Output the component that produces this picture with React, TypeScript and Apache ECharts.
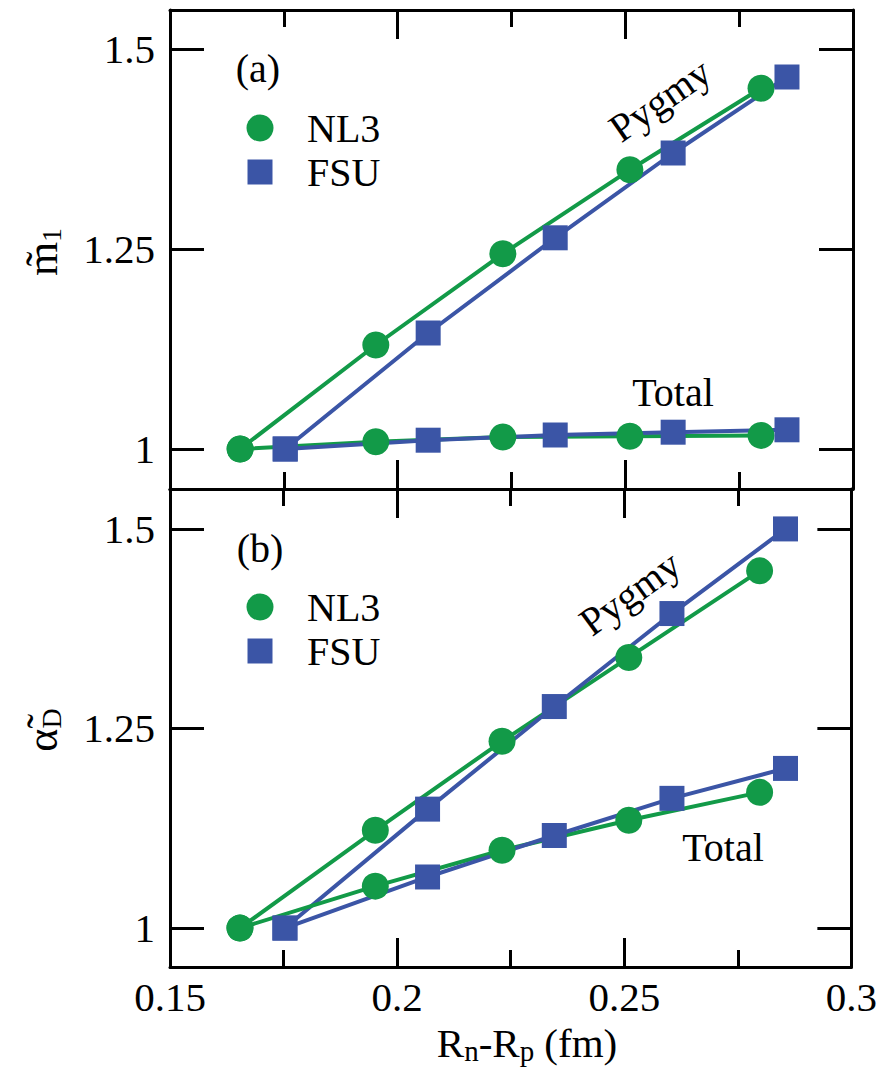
import React, { useEffect, useRef } from 'react';
import * as echarts from 'echarts';

// ---- data ----
const nl3X = [0.1654, 0.1952, 0.2231, 0.251, 0.2798];
const fsuX = [0.1753, 0.2067, 0.2346, 0.2605, 0.2855];

// panel (a): m1 ratio
const nl3PygmyM1 = [1.0, 1.13, 1.244, 1.349, 1.451];
const fsuPygmyM1 = [1.0, 1.145, 1.264, 1.37, 1.465];
const nl3TotalM1 = [1.0, 1.009, 1.015, 1.016, 1.017];
const fsuTotalM1 = [1.0, 1.011, 1.0175, 1.021, 1.024];

// panel (b): alpha_D ratio
const nl3PygmyAlpha = [1.0, 1.1225, 1.234, 1.339, 1.4475];
const fsuPygmyAlpha = [1.0, 1.149, 1.2775, 1.394, 1.5];
const nl3TotalAlpha = [1.0, 1.0525, 1.0975, 1.135, 1.17];
const fsuTotalAlpha = [1.0, 1.064, 1.116, 1.1625, 1.2];

const yTickValues = [1, 1.25, 1.5];
const xRange = [0.15, 0.3];
const xInterval = 0.05;

const GREEN = '#129a48';
const BLUE = '#3b55a6';
const FONT = 'Liberation Serif';

const pairs = (xs: number[], ys: number[]) => xs.map((x, i) => [x, ys[i]]);

export default function App() {
  const ref = useRef<HTMLDivElement>(null);
  useEffect(() => {
    if (!ref.current) return;
    const chart = echarts.init(ref.current, null, { renderer: 'svg' });

    const axisLine = { show: true, onZero: false, lineStyle: { color: '#000', width: 3 } };
    const xAxisBase = (gridIndex: number, position: string, showLabel: boolean) => ({
      type: 'value',
      gridIndex,
      position,
      min: xRange[0],
      max: xRange[1],
      interval: xInterval,
      axisLine,
      axisTick: { show: true, inside: true, length: 29, lineStyle: { color: '#000', width: 3 } },
      minorTick: { show: true, splitNumber: 2, length: 17, lineStyle: { color: '#000', width: 3 } },
      splitLine: { show: false },
      minorSplitLine: { show: false },
      axisLabel: {
        show: showLabel,
        fontFamily: FONT,
        fontSize: 41,
        color: '#000',
        margin: 9,
        formatter: (v: number) => String(Math.round(v * 1000) / 1000),
      },
    });
    const yAxisBase = (gridIndex: number, position: string, min: number, max: number, showLabel: boolean) => ({
      type: 'value',
      gridIndex,
      position,
      min,
      max,
      axisLine,
      axisTick: {
        show: true,
        inside: true,
        length: 34,
        customValues: yTickValues,
        lineStyle: { color: '#000', width: 3 },
      },
      splitLine: { show: false },
      axisLabel: {
        show: showLabel,
        customValues: yTickValues,
        fontFamily: FONT,
        fontSize: 41,
        color: '#000',
        margin: 15,
        formatter: (v: number) => String(v),
      },
    });

    const mk = (name: string, xs: number[], ys: number[], panel: number, color: string, symbol: string, size: number) => ({
      name,
      type: 'line',
      xAxisIndex: panel * 2,
      yAxisIndex: panel * 2,
      data: pairs(xs, ys),
      symbol,
      symbolSize: size,
      showSymbol: true,
      lineStyle: { color, width: 4 },
      itemStyle: { color, opacity: 1 },
      emphasis: { disabled: true },
      z: 3,
    });

    const richY = {
      m: { fontFamily: FONT, fontSize: 44, lineHeight: 46, fill: '#000', color: '#000' },
      s: { fontFamily: FONT, fontSize: 28, lineHeight: 24, verticalAlign: 'bottom', fill: '#000', color: '#000' },
    };

    const txt = (text: string, x: number, y: number, extra: any = {}) => ({
      type: 'text',
      x,
      y,
      ...extra,
      style: {
        text,
        fontFamily: FONT,
        fontSize: 40,
        fill: '#000',
        align: 'center',
        verticalAlign: 'middle',
        ...(extra.style || {}),
      },
    });

    const legendItems = (cy1: number, cy2: number) => [
      { type: 'circle', shape: { cx: 260, cy: cy1, r: 13.5 }, style: { fill: GREEN } },
      { type: 'rect', shape: { x: 247.5, y: cy2 - 12.5, width: 25, height: 25 }, style: { fill: BLUE } },
      txt('NL3', 307, cy1, { style: { align: 'left' } }),
      txt('FSU', 307, cy2, { style: { align: 'left' } }),
    ];

    chart.setOption({
      animation: false,
      textStyle: { fontFamily: FONT },
      grid: [
        { left: 170, right: 27, top: 10, height: 479 },
        { left: 170, right: 27, top: 489, height: 478 },
      ],
      xAxis: [
        xAxisBase(0, 'bottom', false),
        xAxisBase(0, 'top', false),
        xAxisBase(1, 'bottom', true),
        xAxisBase(1, 'top', false),
      ],
      yAxis: [
        yAxisBase(0, 'left', 0.95, 1.54875, true),
        yAxisBase(0, 'right', 0.95, 1.54875, false),
        yAxisBase(1, 'left', 0.95125, 1.55, true),
        yAxisBase(1, 'right', 0.95125, 1.55, false),
      ],
      series: [
        mk('NL3', nl3X, nl3PygmyM1, 0, GREEN, 'circle', 27),
        mk('FSU', fsuX, fsuPygmyM1, 0, BLUE, 'rect', 25),
        mk('NL3', nl3X, nl3TotalM1, 0, GREEN, 'circle', 27),
        mk('FSU', fsuX, fsuTotalM1, 0, BLUE, 'rect', 25),
        mk('NL3', nl3X, nl3PygmyAlpha, 1, GREEN, 'circle', 27),
        mk('FSU', fsuX, fsuPygmyAlpha, 1, BLUE, 'rect', 25),
        mk('NL3', nl3X, nl3TotalAlpha, 1, GREEN, 'circle', 27),
        mk('FSU', fsuX, fsuTotalAlpha, 1, BLUE, 'rect', 25),
      ],
      graphic: [
        txt('(a)', 258, 68),
        txt('(b)', 260, 548),
        ...legendItems(128, 172),
        ...legendItems(607, 651),
        txt('Pygmy', 660, 100, { rotation: (35 * Math.PI) / 180 }),
        txt('Pygmy', 630, 593, { rotation: (36 * Math.PI) / 180 }),
        txt('Total', 673, 392),
        txt('Total', 723, 847),
        txt('', 42, 252, {
          rotation: Math.PI / 2,
          style: { text: '{m|m\u0303}{s|1}', rich: richY },
        }),
        txt('', 42, 730, {
          rotation: Math.PI / 2,
          style: { text: '{m|\u03b1\u0303}{s|D}', rich: richY },
        }),
        txt('', 527, 1043, {
          style: {
            text: '{m|R}{s|n}{m|-R}{s|p}{m| (fm)}',
            rich: {
              m: { fontFamily: FONT, fontSize: 41, lineHeight: 44, fill: '#000', color: '#000' },
              s: { fontFamily: FONT, fontSize: 29, lineHeight: 24, verticalAlign: 'bottom', fill: '#000', color: '#000' },
            },
          },
        }),
      ],
    });
    return () => chart.dispose();
  }, []);
  return (
    <div
      ref={ref}
      style={{ position: 'absolute', left: 0, top: 0, width: 880, height: 1078, background: '#fff' }}
    />
  );
}
